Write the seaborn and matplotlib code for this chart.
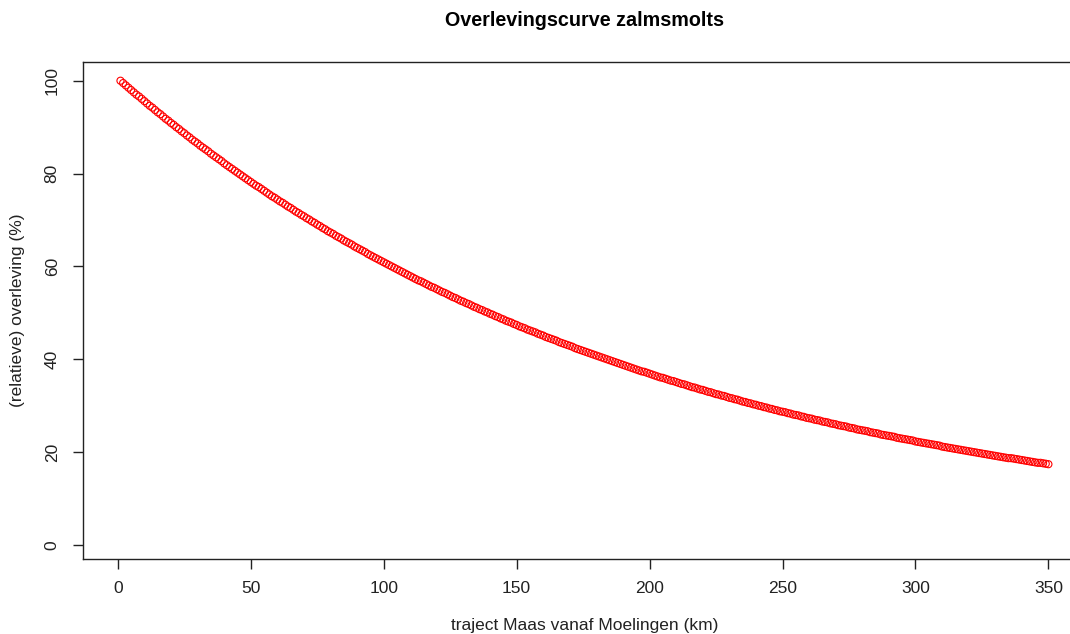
import matplotlib
matplotlib.use("Agg")
import matplotlib.pyplot as plt
import seaborn as sns
import pandas as pd

# Traject in km (1 punt per km)
km = list(range(1, 351))

# (relatieve) overleving in %
overleving = [
    100.0, 99.5, 99.0, 98.5, 98.0, 97.5, 97.0, 96.6, 96.1, 95.6,
    95.1, 94.6, 94.2, 93.7, 93.2, 92.8, 92.3, 91.8, 91.4, 90.9,
    90.5, 90.0, 89.6, 89.1, 88.7, 88.2, 87.8, 87.3, 86.9, 86.5,
    86.0, 85.6, 85.2, 84.8, 84.3, 83.9, 83.5, 83.1, 82.7, 82.2,
    81.8, 81.4, 81.0, 80.6, 80.2, 79.8, 79.4, 79.0, 78.6, 78.2,
    77.8, 77.4, 77.1, 76.7, 76.3, 75.9, 75.5, 75.1, 74.8, 74.4,
    74.0, 73.7, 73.3, 72.9, 72.6, 72.2, 71.8, 71.5, 71.1, 70.8,
    70.4, 70.1, 69.7, 69.4, 69.0, 68.7, 68.3, 68.0, 67.6, 67.3,
    67.0, 66.6, 66.3, 66.0, 65.6, 65.3, 65.0, 64.7, 64.3, 64.0,
    63.7, 63.4, 63.1, 62.7, 62.4, 62.1, 61.8, 61.5, 61.2, 60.9,
    60.6, 60.3, 60.0, 59.7, 59.4, 59.1, 58.8, 58.5, 58.2, 57.9,
    57.6, 57.3, 57.0, 56.8, 56.5, 56.2, 55.9, 55.6, 55.4, 55.1,
    54.8, 54.5, 54.3, 54.0, 53.7, 53.4, 53.2, 52.9, 52.6, 52.4,
    52.1, 51.9, 51.6, 51.3, 51.1, 50.8, 50.6, 50.3, 50.1, 49.8,
    49.6, 49.3, 49.1, 48.8, 48.6, 48.3, 48.1, 47.9, 47.6, 47.4,
    47.1, 46.9, 46.7, 46.4, 46.2, 46.0, 45.8, 45.5, 45.3, 45.1,
    44.8, 44.6, 44.4, 44.2, 44.0, 43.7, 43.5, 43.3, 43.1, 42.9,
    42.7, 42.4, 42.2, 42.0, 41.8, 41.6, 41.4, 41.2, 41.0, 40.8,
    40.6, 40.4, 40.2, 40.0, 39.8, 39.6, 39.4, 39.2, 39.0, 38.8,
    38.6, 38.4, 38.2, 38.0, 37.8, 37.6, 37.4, 37.3, 37.1, 36.9,
    36.7, 36.5, 36.3, 36.1, 36.0, 35.8, 35.6, 35.4, 35.3, 35.1,
    34.9, 34.7, 34.6, 34.4, 34.2, 34.0, 33.9, 33.7, 33.5, 33.4,
    33.2, 33.0, 32.9, 32.7, 32.5, 32.4, 32.2, 32.1, 31.9, 31.7,
    31.6, 31.4, 31.3, 31.1, 30.9, 30.8, 30.6, 30.5, 30.3, 30.2,
    30.0, 29.9, 29.7, 29.6, 29.4, 29.3, 29.1, 29.0, 28.8, 28.7,
    28.6, 28.4, 28.3, 28.1, 28.0, 27.9, 27.7, 27.6, 27.4, 27.3,
    27.2, 27.0, 26.9, 26.8, 26.6, 26.5, 26.4, 26.2, 26.1, 26.0,
    25.8, 25.7, 25.6, 25.5, 25.3, 25.2, 25.1, 24.9, 24.8, 24.7,
    24.6, 24.5, 24.3, 24.2, 24.1, 24.0, 23.8, 23.7, 23.6, 23.5,
    23.4, 23.3, 23.1, 23.0, 22.9, 22.8, 22.7, 22.6, 22.5, 22.3,
    22.2, 22.1, 22.0, 21.9, 21.8, 21.7, 21.6, 21.5, 21.4, 21.2,
    21.1, 21.0, 20.9, 20.8, 20.7, 20.6, 20.5, 20.4, 20.3, 20.2,
    20.1, 20.0, 19.9, 19.8, 19.7, 19.6, 19.5, 19.4, 19.3, 19.2,
    19.1, 19.0, 18.9, 18.8, 18.7, 18.7, 18.6, 18.5, 18.4, 18.3,
    18.2, 18.1, 18.0, 17.9, 17.8, 17.7, 17.7, 17.6, 17.5, 17.4,
]

x_ticks = [0, 50, 100, 150, 200, 250, 300, 350]
y_ticks = [0, 20, 40, 60, 80, 100]

df = pd.DataFrame({"km": km, "overleving": overleving})

sns.set_theme(style="white")
plt.rcParams["font.family"] = ["Liberation Sans", "DejaVu Sans"]

fig = plt.figure(figsize=(10.70, 6.34), dpi=100)
# plot box loopt rechts buiten het (bijgesneden) beeld door
ax = fig.add_axes([0.0779, 0.1188, 0.9366, 0.7839])

sns.scatterplot(data=df, x="km", y="overleving", ax=ax, marker="o",
                facecolor="none", edgecolor="red", s=26, linewidth=0.8)

ax.set_xlim(-12.96, 363.96)
ax.set_ylim(-2.95, 104.1)
ax.set_xticks(x_ticks)
ax.set_yticks(y_ticks)
ax.set_yticklabels([str(v) for v in y_ticks], rotation=90, va="center")

for s in ax.spines.values():
    s.set_visible(True)
    s.set_color("#222222")
    s.set_linewidth(1.0)

ax.tick_params(axis="both", direction="out", length=7, width=1.0,
               color="#222222", labelcolor="#222222", labelsize=12.5,
               bottom=True, left=True)
ax.tick_params(axis="x", pad=9)
ax.tick_params(axis="y", pad=10)

ax.set_xlabel("traject Maas vanaf Moelingen (km)", fontsize=12.5,
              color="#222222", labelpad=16)
ax.set_ylabel("(relatieve) overleving (%)", fontsize=12.5,
              color="#222222", labelpad=14)
ax.set_title("Overlevingscurve zalmsmolts", fontsize=14.2,
             fontweight="bold", color="black", pad=26)

fig.savefig("out.png", dpi=100)
